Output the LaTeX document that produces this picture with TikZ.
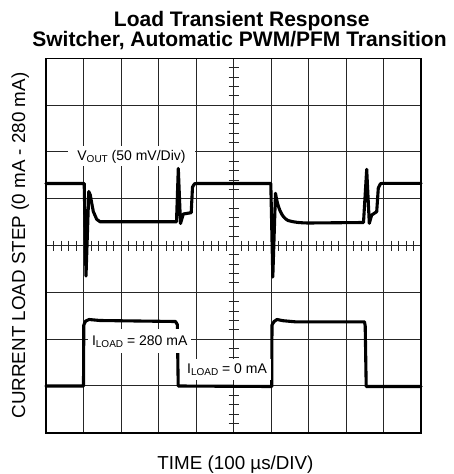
\documentclass[tikz,border=0pt]{standalone}
\usepackage{fontspec}
\setmainfont{Liberation Sans}
\newcommand\subtxt[1]{\raisebox{-2pt}{\fontsize{10}{10}\selectfont #1}}
\begin{document}
\begin{tikzpicture}[x=1pt,y=-1pt,
  gridline/.style={draw=black!85,line width=0.9pt},
  frameline/.style={draw=black,line width=1.6pt},
  trace/.style={draw=black,line width=3.1pt,line join=round,line cap=round},
  lbl/.style={font=\fontsize{14}{14}\selectfont,fill=white,inner xsep=4pt,inner ysep=4pt,anchor=base},
  axlabel/.style={font=\fontsize{18.8}{19}\selectfont,inner sep=0pt,anchor=base},
  titletxt/.style={font=\bfseries\fontsize{21}{21}\selectfont,inner sep=0pt,anchor=base}]
\useasboundingbox (0,0) rectangle (454,474);
% grid
\foreach \i in {1,...,9} \draw[gridline] ({46+37.5*\i},58.3) -- ({46+37.5*\i},432.7);
\foreach \j in {1,...,7} \draw[gridline] (46,{58.3+46.8*\j}) -- (421,{58.3+46.8*\j});
% centre axis ticks
\foreach \k in {1,...,49} \draw[gridline] ({46+7.5*\k},240.5) -- ({46+7.5*\k},250.5);
\foreach \k in {1,...,39} \draw[gridline] (228.5,{58.3+9.36*\k}) -- (238.5,{58.3+9.36*\k});
\draw[frameline] (46,58.3) rectangle (421,432.7);
% V_OUT trace
\draw[trace] (46,183.5) -- (84.2,183.5) -- (86,276) -- (88.8,191.5) -- (90.3,195)
  -- (91.7,203) -- (93.3,211.5) -- (96.7,219.3) -- (100,221.7) -- (176.5,221.7)
  -- (178.3,168.5) -- (180.5,223.5) -- (183.3,214) -- (191.2,212.7) -- (192.5,187)
  -- (194.5,183.8) -- (197,183.5) -- (270.8,183.5) -- (272.8,277) -- (275.5,193.3)
  .. controls (277.5,206) and (281,217) .. (288,220.5)
  .. controls (295,222.5) and (300,222.8) .. (308.3,223)
  -- (363.5,222.5) -- (366.7,169.3) -- (369.3,223.3) -- (371.7,215) -- (376.7,211.7)
  -- (378.3,188) -- (380.5,183.7) -- (383,183.3) -- (421,183.3);
% I_LOAD trace
\draw[trace] (46,386) -- (83.5,386) -- (83.8,325) -- (85.5,321.2) -- (89,319.5)
  -- (100,320.5) -- (175.5,321.5) -- (177.3,324.5) -- (178.2,386) -- (271.7,386.5)
  -- (272,325) -- (274,321.6) -- (277,319.5) -- (283,320.7) -- (295,321.8)
  -- (364.5,321.8) -- (365.2,326) -- (366.2,386.5) -- (421,386.5);
% labels
\node[lbl,inner xsep=9pt,inner ysep=3.5pt] (vout) at (131.5,160) {V\subtxt{OUT} (50 mV/Div)};
\node[lbl,inner ysep=6pt] (iload1) at (139.7,345) {I\subtxt{LOAD} = 280 mA};
\node[lbl,inner ysep=5pt] (iload0) at (227,373.3) {I\subtxt{LOAD} = 0 mA};
% titles and axis labels
\node[titletxt] (title1) at (241.7,26) {Load Transient Response};
\node[titletxt] (title2) at (239.5,46.7) {Switcher, Automatic PWM/PFM Transition};
\node[axlabel,rotate=90] (ylab) at (25,245.5) {CURRENT LOAD STEP (0 mA - 280 mA)};
\node[axlabel] (xlab) at (235.5,469.3) {TIME (100 µs/DIV)};
\end{tikzpicture}
\end{document}
